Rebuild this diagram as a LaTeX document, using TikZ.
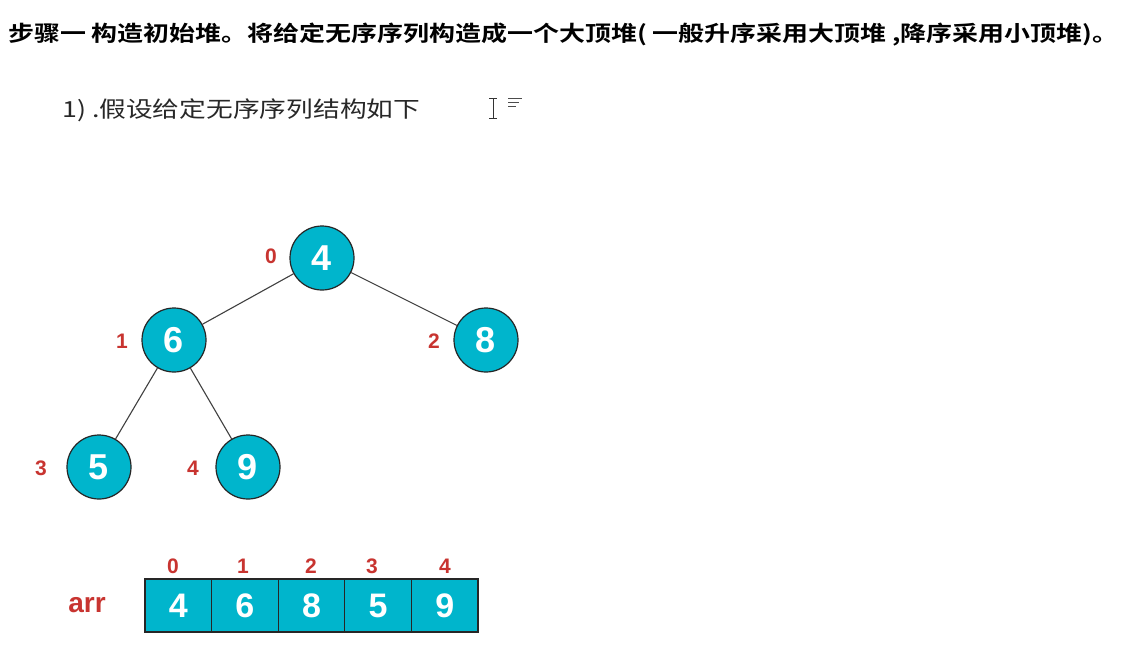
\documentclass[tikz,border=0pt]{standalone}
\usepackage{fontspec}
\setmainfont{Liberation Sans}
\newfontfamily\cjk{Noto Sans CJK SC}
\newfontfamily\cjkb{Noto Sans CJK SC Bold}
\definecolor{teal1}{RGB}{0,181,204}
\definecolor{redlab}{RGB}{200,52,48}
\definecolor{txtgray}{RGB}{40,40,40}
\begin{document}
\begin{tikzpicture}[x=1pt,y=-1pt,
  heapnode/.style={circle,draw=black!85,line width=1.2pt,fill=teal1,minimum size=64pt,inner sep=0pt,text=white,font=\fontsize{36}{36}\selectfont\bfseries},
  idx/.style={text=redlab,font=\fontsize{21}{21}\selectfont\bfseries},
  cell/.style={draw=black!85,line width=1.2pt,fill=teal1,minimum width=66.6pt,minimum height=53pt,inner sep=0pt,text=white,font=\fontsize{34}{34}\selectfont\bfseries},
  edge/.style={draw=black!75,line width=1.1pt}]
\useasboundingbox (0,0) rectangle (1126,657);
\fill[white] (0,0) rectangle (1126,657);
% title
\node[anchor=west,inner sep=0pt,text=black] (title) at (8,35) {\resizebox{1110pt}{!}{\scalebox{1}[0.83]{\cjkb\fontsize{22}{26}\selectfont 步骤一\ 构造初始堆。将给定无序序列构造成一个大顶堆(\ 一般升序采用大顶堆\ ,降序采用小顶堆)。}}};
\node[anchor=west,inner sep=0pt,text=txtgray] (sub) at (62,110) {\resizebox{358pt}{!}{\scalebox{1}[0.83]{\cjk\fontsize{22}{26}\selectfont 1)\ .假设给定无序序列结构如下}}};
% cursor icon
\draw[black!80,line width=1pt] (493,98) -- (493,118) (489,98) -- (497,98) (489,118) -- (497,118);
\draw[black!70,line width=1pt] (508,98) -- (522,98) (508,102) -- (519,102) (508,106) -- (516,106);
% heap
\node[heapnode] (n0) at (322,258) {4};
\node[heapnode] (n1) at (174,340) {6};
\node[heapnode] (n2) at (486,340) {8};
\node[heapnode] (n3) at (99,467) {5};
\node[heapnode] (n4) at (248,467) {9};
\draw[edge] (n0) -- (n1);
\draw[edge] (n0) -- (n2);
\draw[edge] (n1) -- (n3);
\draw[edge] (n1) -- (n4);
\node[idx] (l0) at (271,256) {0};
\node[idx] (l1) at (122,341) {1};
\node[idx] (l2) at (434,341) {2};
\node[idx] (l3) at (41,468) {3};
\node[idx] (l4) at (193,468) {4};
% array
\node[cell] (c0) at (178.3,605.5) {4};
\node[cell] (c1) at (244.9,605.5) {6};
\node[cell] (c2) at (311.5,605.5) {8};
\node[cell] (c3) at (378.1,605.5) {5};
\node[cell] (c4) at (444.7,605.5) {9};
\node[idx] (a0) at (173,566) {0};
\node[idx] (a1) at (243,566) {1};
\node[idx] (a2) at (311,566) {2};
\node[idx] (a3) at (372,566) {3};
\node[idx] (a4) at (445,566) {4};
\node[text=redlab,font=\fontsize{28}{28}\selectfont\bfseries] (arr) at (87,605) {arr};
\end{tikzpicture}
\end{document}
